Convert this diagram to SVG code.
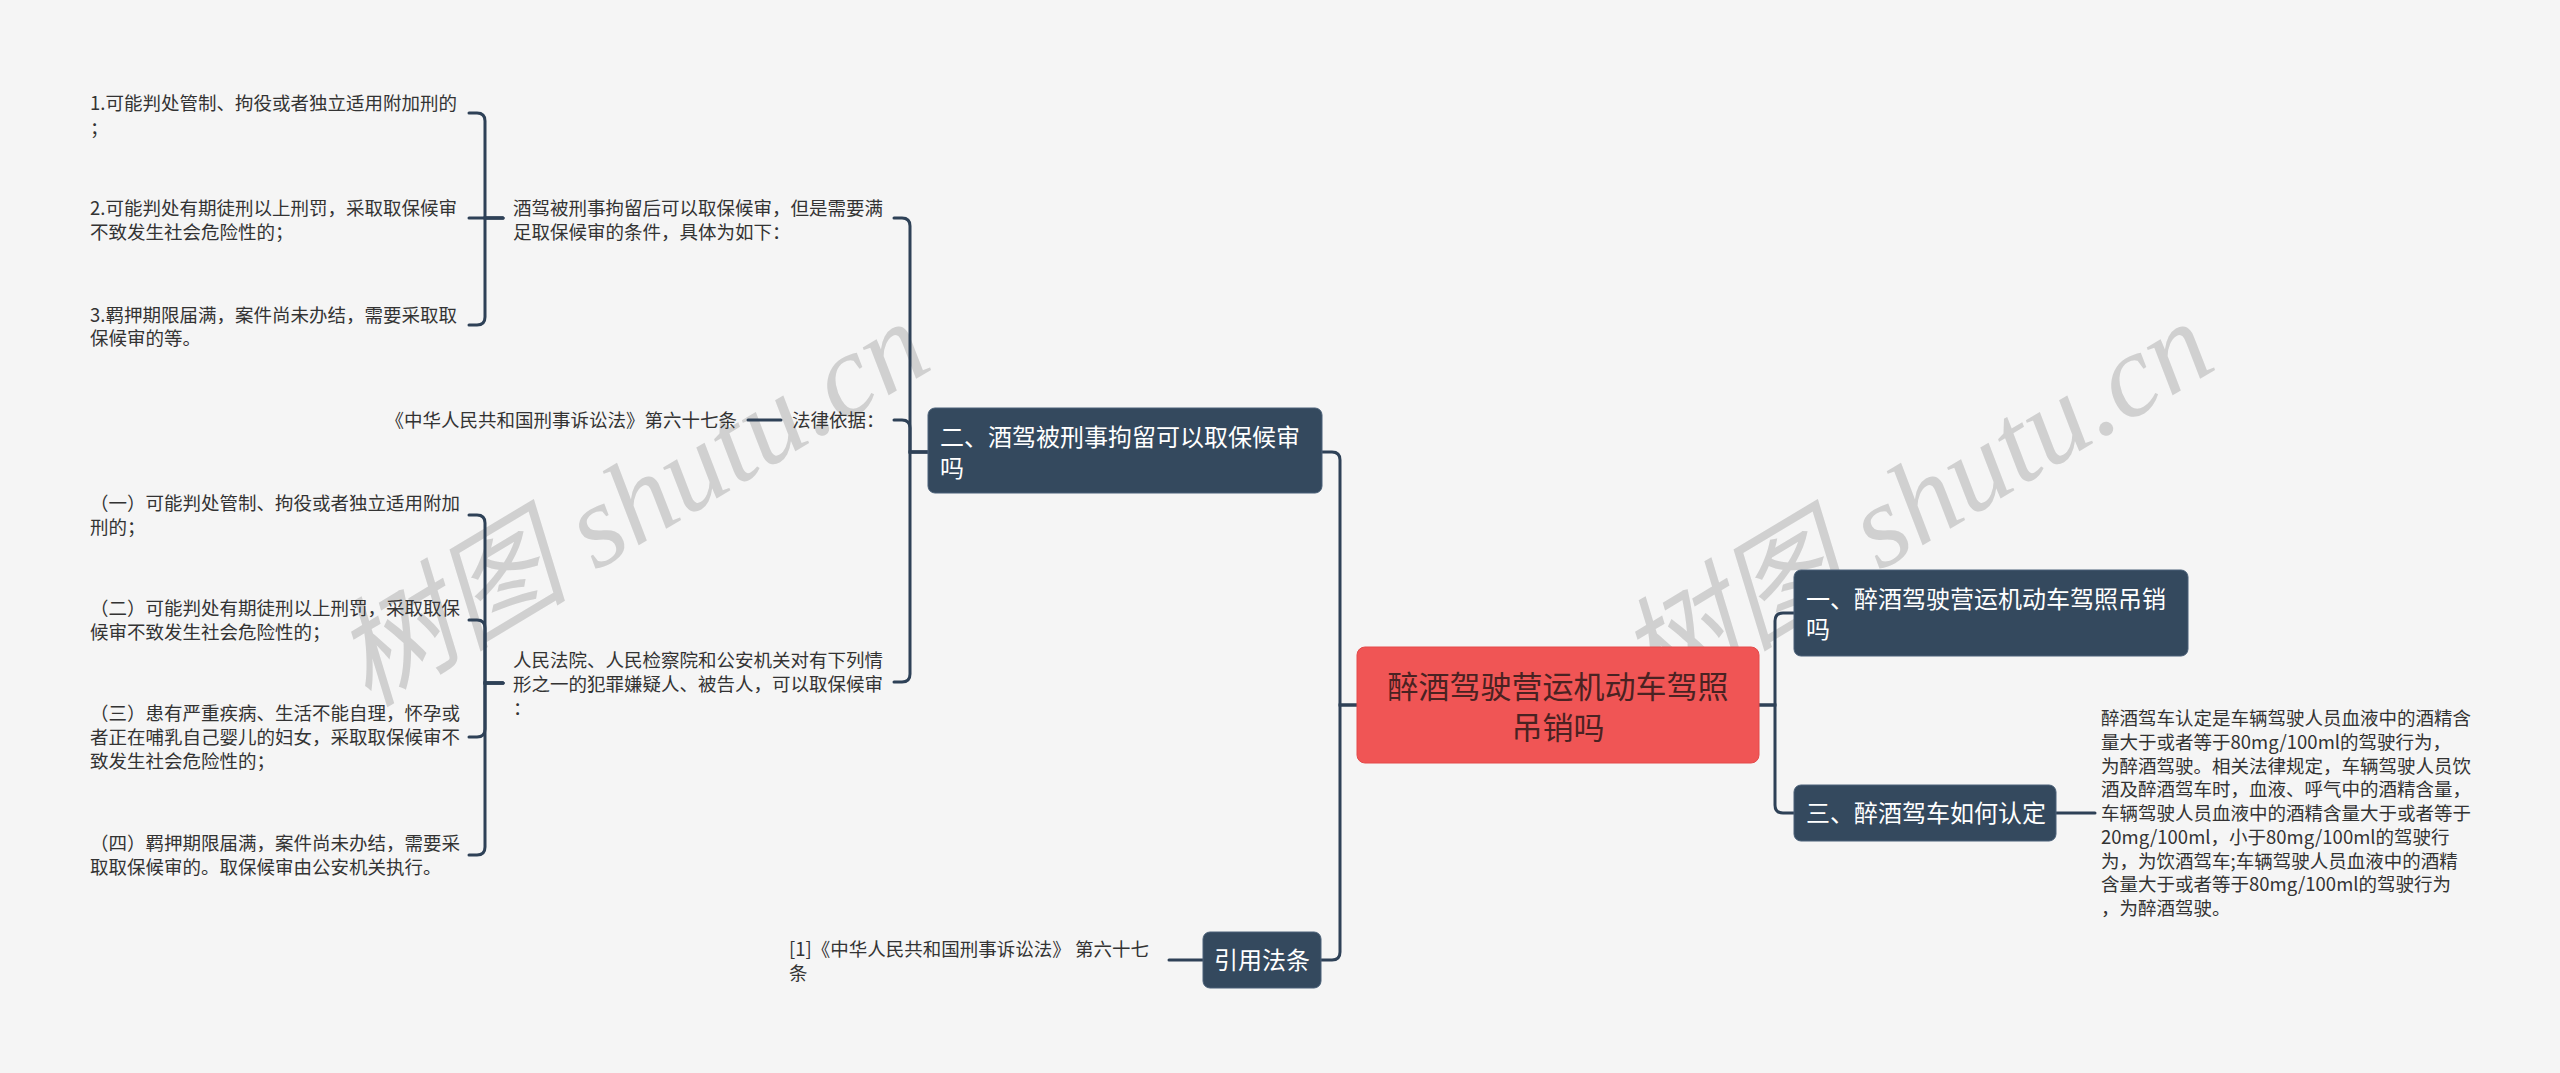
<svg xmlns="http://www.w3.org/2000/svg" width="2560" height="1073" viewBox="0 0 2560 1073">
<style>
.bg{fill:#f5f5f5}
.wm{font-family:"Liberation Serif","Noto Sans CJK SC",serif;font-size:118px;font-style:italic;fill:#c9c9c9;fill-opacity:0.85}
.c{fill:none;stroke:#2e4157;stroke-width:3;stroke-linecap:round}
.t{font-family:"Noto Sans CJK SC","Noto Sans",sans-serif;font-size:18.5px;fill:#333333}
.nb{fill:#34495e;stroke:#4a6078;stroke-width:1}
.nt{font-family:"Noto Sans CJK SC","Noto Sans",sans-serif;font-size:24px;fill:#ffffff}
.rb{fill:#f05555;stroke:#e44a4a;stroke-width:1}
.rt{font-family:"Noto Sans CJK SC","Noto Sans",sans-serif;font-size:31px;fill:#4a2222}
</style>
<rect class="bg" x="0" y="0" width="2560" height="1073"/>
<g id="watermarks">
<text class="wm" transform="translate(368,708) rotate(-31)">树图 shutu.cn</text>
<text class="wm" transform="translate(1652,708) rotate(-31)">树图 shutu.cn</text>
</g>
<g id="connectors">
<path class="c" d="M1357 705 H1340 V460 Q1340 452 1332 452 H1322"/>
<path class="c" d="M1357 705 H1340 V952 Q1340 960 1332 960 H1321"/>
<path class="c" d="M1759 705 H1775 V621 Q1775 613 1783 613 H1794"/>
<path class="c" d="M1759 705 H1775 V805 Q1775 813 1783 813 H1794"/>
<path class="c" d="M928 452 H910 V226 Q910 218 902 218 H894"/>
<path class="c" d="M928 452 H910 V428 Q910 420 902 420 H894"/>
<path class="c" d="M928 452 H910 V674 Q910 682 902 682 H894"/>
<path class="c" d="M503 218 H485 V121 Q485 113 477 113 H469"/>
<path class="c" d="M503 218 H469"/>
<path class="c" d="M503 218 H485 V317 Q485 325 477 325 H469"/>
<path class="c" d="M503 683 H485 V523 Q485 515 477 515 H469"/>
<path class="c" d="M503 683 H485 V628 Q485 620 477 620 H469"/>
<path class="c" d="M503 683 H485 V729 Q485 737 477 737 H469"/>
<path class="c" d="M503 683 H485 V847 Q485 855 477 855 H469"/>
<path class="c" d="M781 420 H748"/>
<path class="c" d="M2056 813 H2095"/>
<path class="c" d="M1203 960 H1169"/>
</g>
<g id="root">
<rect class="rb" x="1357" y="647" width="402" height="116" rx="8"/>
<text class="rt" x="1558" y="698" text-anchor="middle">醉酒驾驶营运机动车驾照</text>
<text class="rt" x="1558" y="739" text-anchor="middle">吊销吗</text>
</g>
<g id="n-er">
<rect class="nb" x="928" y="408" width="394" height="85" rx="7"/>
<text class="nt" x="940" y="446">二、酒驾被刑事拘留可以取保候审</text>
<text class="nt" x="940" y="477">吗</text>
</g>
<g id="n-yi">
<rect class="nb" x="1794" y="570" width="394" height="86" rx="7"/>
<text class="nt" x="1806" y="608">一、醉酒驾驶营运机动车驾照吊销</text>
<text class="nt" x="1806" y="638">吗</text>
</g>
<g id="n-san">
<rect class="nb" x="1794" y="785" width="262" height="56" rx="7"/>
<text class="nt" x="1806" y="822">三、醉酒驾车如何认定</text>
</g>
<g id="n-yinyong">
<rect class="nb" x="1203" y="932" width="118" height="56" rx="7"/>
<text class="nt" x="1262" y="969" text-anchor="middle">引用法条</text>
</g>
<g id="t-jiujia">
<text class="t" x="513" y="215">酒驾被刑事拘留后可以取保候审，但是需要满</text>
<text class="t" x="513" y="239">足取保候审的条件，具体为如下：</text>
</g>
<g id="t-a1">
<text class="t" x="90" y="110">1.可能判处管制、拘役或者独立适用附加刑的</text>
<text class="t" x="90" y="135">；</text>
</g>
<g id="t-a2">
<text class="t" x="90" y="215">2.可能判处有期徒刑以上刑罚，采取取保候审</text>
<text class="t" x="90" y="239">不致发生社会危险性的；</text>
</g>
<g id="t-a3">
<text class="t" x="90" y="322">3.羁押期限届满，案件尚未办结，需要采取取</text>
<text class="t" x="90" y="345">保候审的等。</text>
</g>
<g id="t-falv">
<text class="t" x="792" y="427">法律依据：</text>
</g>
<g id="t-xingsu">
<text class="t" x="737" y="427" text-anchor="end">《中华人民共和国刑事诉讼法》第六十七条</text>
</g>
<g id="t-renmin">
<text class="t" x="513" y="667">人民法院、人民检察院和公安机关对有下列情</text>
<text class="t" x="513" y="691">形之一的犯罪嫌疑人、被告人，可以取保候审</text>
<text class="t" x="513" y="715">：</text>
</g>
<g id="t-b1">
<text class="t" x="90" y="510">（一）可能判处管制、拘役或者独立适用附加</text>
<text class="t" x="90" y="534">刑的；</text>
</g>
<g id="t-b2">
<text class="t" x="90" y="615">（二）可能判处有期徒刑以上刑罚，采取取保</text>
<text class="t" x="90" y="639">候审不致发生社会危险性的；</text>
</g>
<g id="t-b3">
<text class="t" x="90" y="720">（三）患有严重疾病、生活不能自理，怀孕或</text>
<text class="t" x="90" y="744">者正在哺乳自己婴儿的妇女，采取取保候审不</text>
<text class="t" x="90" y="768">致发生社会危险性的；</text>
</g>
<g id="t-b4">
<text class="t" x="90" y="850">（四）羁押期限届满，案件尚未办结，需要采</text>
<text class="t" x="90" y="874">取取保候审的。取保候审由公安机关执行。</text>
</g>
<g id="t-cite">
<text class="t" x="789" y="956">[1]《中华人民共和国刑事诉讼法》 第六十七</text>
<text class="t" x="789" y="980">条</text>
</g>
<g id="t-rending">
<text class="t" x="2101" y="725">醉酒驾车认定是车辆驾驶人员血液中的酒精含</text>
<text class="t" x="2101" y="749">量大于或者等于80mg/100ml的驾驶行为，</text>
<text class="t" x="2101" y="773">为醉酒驾驶。相关法律规定，车辆驾驶人员饮</text>
<text class="t" x="2101" y="796">酒及醉酒驾车时，血液、呼气中的酒精含量，</text>
<text class="t" x="2101" y="820">车辆驾驶人员血液中的酒精含量大于或者等于</text>
<text class="t" x="2101" y="844">20mg/100ml，小于80mg/100ml的驾驶行</text>
<text class="t" x="2101" y="868">为，为饮酒驾车;车辆驾驶人员血液中的酒精</text>
<text class="t" x="2101" y="891">含量大于或者等于80mg/100ml的驾驶行为</text>
<text class="t" x="2101" y="915">，为醉酒驾驶。</text>
</g>
</svg>
